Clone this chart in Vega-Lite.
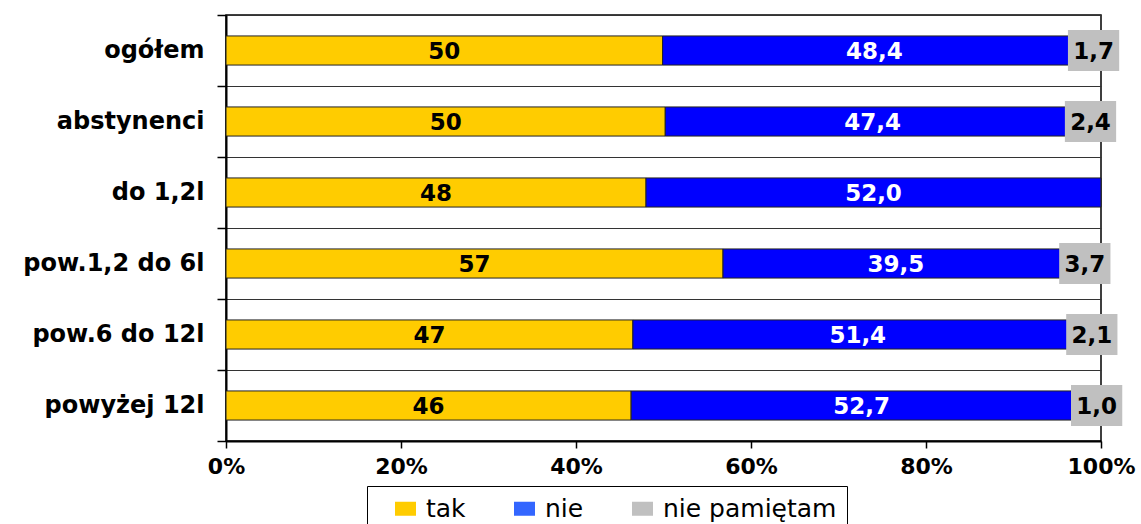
{
  "$schema": "https://vega.github.io/schema/vega-lite/v6.json",
  "width": 875,
  "height": 426,
  "autosize": {"type": "none"},
  "padding": {"left": 226, "top": 15, "right": 40, "bottom": 83},
  "background": "white",
  "config": {
    "locale": {"number": {"decimal": ",", "thousands": "\u00a0", "grouping": [3], "currency": ["", "\u00a0zł"]}},
    "view": {"stroke": "#000", "strokeWidth": 1.5},
    "font": "DejaVu Sans"
  },
  "data": {
    "values": [
      {"group": "ogółem", "answer": "tak", "value": 49.9},
      {"group": "ogółem", "answer": "nie", "value": 48.4},
      {"group": "ogółem", "answer": "nie pamiętam", "value": 1.7},
      {"group": "abstynenci", "answer": "tak", "value": 50.2},
      {"group": "abstynenci", "answer": "nie", "value": 47.4},
      {"group": "abstynenci", "answer": "nie pamiętam", "value": 2.4},
      {"group": "do 1,2l", "answer": "tak", "value": 48.0},
      {"group": "do 1,2l", "answer": "nie", "value": 52.0},
      {"group": "pow.1,2 do 6l", "answer": "tak", "value": 56.8},
      {"group": "pow.1,2 do 6l", "answer": "nie", "value": 39.5},
      {"group": "pow.1,2 do 6l", "answer": "nie pamiętam", "value": 3.7},
      {"group": "pow.6 do 12l", "answer": "tak", "value": 46.5},
      {"group": "pow.6 do 12l", "answer": "nie", "value": 51.4},
      {"group": "pow.6 do 12l", "answer": "nie pamiętam", "value": 2.1},
      {"group": "powyżej 12l", "answer": "tak", "value": 46.3},
      {"group": "powyżej 12l", "answer": "nie", "value": 52.7},
      {"group": "powyżej 12l", "answer": "nie pamiętam", "value": 1.0}
    ]
  },
  "transform": [
    {"calculate": "indexof(['tak','nie','nie pamiętam'], datum.answer)", "as": "ord"},
    {"stack": "value", "groupby": ["group"], "sort": [{"field": "ord", "order": "ascending"}], "offset": "normalize", "as": ["x0", "x1"]},
    {"calculate": "(datum.x0 + datum.x1) / 2", "as": "xm"}
  ],
  "resolve": {"scale": {"color": "independent"}, "legend": {"color": "independent"}},
  "encoding": {
    "y": {
      "field": "group",
      "type": "nominal",
      "sort": null,
      "title": null,
      "scale": {"paddingInner": 0, "paddingOuter": 0},
      "axis": {
        "tickBand": "extent",
        "grid": true,
        "gridColor": "#333",
        "gridWidth": 1,
        "domainColor": "#000",
        "domainWidth": 2,
        "tickColor": "#000",
        "tickWidth": 1.5,
        "tickSize": 9,
        "labelPadding": 13,
        "labelLimit": 300,
        "labelFont": "DejaVu Sans",
        "labelFontWeight": "bold",
        "labelFontSize": 24,
        "labelColor": "#000"
      }
    }
  },
  "layer": [
    {
      "mark": {"type": "bar", "stroke": "#222", "strokeWidth": 1, "height": {"band": 0.41}},
      "encoding": {
        "x": {
          "field": "x0",
          "type": "quantitative",
          "title": null,
          "scale": {"domain": [0, 1], "nice": false},
          "axis": {
            "format": ".0%",
            "values": [0, 0.2, 0.4, 0.6, 0.8, 1],
            "grid": false,
            "domainColor": "#000",
            "domainWidth": 2,
            "tickColor": "#000",
            "tickWidth": 1.5,
            "tickSize": 7,
            "labelPadding": 8,
            "labelFont": "DejaVu Sans",
            "labelFontWeight": "bold",
            "labelFontSize": 22,
            "labelColor": "#000",
            "labelFlush": false
          }
        },
        "x2": {"field": "x1"},
        "color": {
          "field": "answer",
          "type": "nominal",
          "scale": {"domain": ["tak", "nie", "nie pamiętam"], "range": ["#FFCC00", "#0000FF", "#C0C0C0"]},
          "legend": null
        }
      }
    },
    {
      "mark": {"type": "bar", "strokeWidth": 0, "height": {"band": 0.41}},
      "encoding": {
        "x": {"field": "x1", "type": "quantitative", "title": null},
        "x2": {"field": "x1"},
        "color": {
          "field": "answer",
          "type": "nominal",
          "scale": {"domain": ["tak", "nie", "nie pamiętam"], "range": ["#FFCC00", "#3366FF", "#C0C0C0"]},
          "legend": {
            "orient": "none",
            "legendX": 141,
            "legendY": 471,
            "direction": "horizontal",
            "columns": 3,
            "title": " ",
            "titleOrient": "left",
            "titlePadding": 16,
            "titleFontSize": 24,
            "padding": 10,
            "strokeColor": "#000",
            "fillColor": "white",
            "columnPadding": 46,
            "labelOffset": 8,
            "labelLimit": 400,
            "labelFont": "DejaVu Sans",
            "labelFontSize": 25,
            "labelColor": "#000",
            "symbolType": "M-1,-0.667H1V0.667H-1Z",
            "symbolSize": 441,
            "symbolStrokeWidth": 0,
            "symbolOpacity": 1
          }
        }
      }
    },
    {
      "transform": [{"filter": "datum.answer === 'nie pamiętam'"}],
      "mark": {"type": "point", "shape": "M-1.25,-1H1.25V1H-1.25Z", "size": 1681, "filled": true, "fill": "#C0C0C0", "opacity": 1, "strokeWidth": 0},
      "encoding": {
        "x": {"field": "xm", "type": "quantitative", "title": null}
      }
    },
    {
      "transform": [{"filter": "datum.answer === 'tak'"}],
      "mark": {"type": "text", "font": "DejaVu Sans", "fontWeight": "bold", "fontSize": 23, "fill": "#000", "align": "center", "baseline": "middle", "dy": 1},
      "encoding": {
        "x": {"field": "xm", "type": "quantitative", "title": null},
        "text": {"field": "value", "type": "quantitative", "format": ".0f"}
      }
    },
    {
      "transform": [{"filter": "datum.answer === 'nie'"}],
      "mark": {"type": "text", "font": "DejaVu Sans", "fontWeight": "bold", "fontSize": 23, "fill": "#fff", "align": "center", "baseline": "middle", "dy": 1},
      "encoding": {
        "x": {"field": "xm", "type": "quantitative", "title": null},
        "text": {"field": "value", "type": "quantitative", "format": ".1f"}
      }
    },
    {
      "transform": [{"filter": "datum.answer === 'nie pamiętam'"}],
      "mark": {"type": "text", "font": "DejaVu Sans", "fontWeight": "bold", "fontSize": 23, "fill": "#000", "align": "center", "baseline": "middle", "dy": 1},
      "encoding": {
        "x": {"field": "xm", "type": "quantitative", "title": null},
        "text": {"field": "value", "type": "quantitative", "format": ".1f"}
      }
    }
  ]
}
